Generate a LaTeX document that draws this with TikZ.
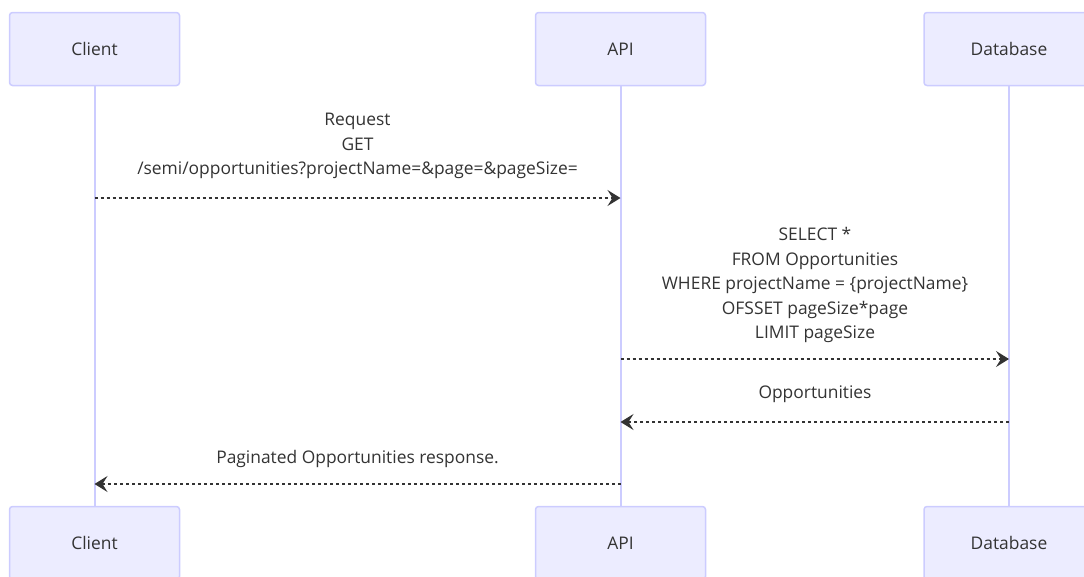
\documentclass[tikz,border=0pt]{standalone}
\usepackage{fontspec}
\setmainfont{Open Sans}
\usetikzlibrary{arrows.meta}
\definecolor{actorfill}{HTML}{ECECFF}
\definecolor{actorline}{HTML}{CCCCFF}
\definecolor{msgtext}{HTML}{333333}
\tikzset{
    actor-box/.style = {draw=actorline, fill=actorfill, line width=1.5pt, rectangle, rounded corners=3pt, minimum width=170pt, minimum height=73pt, text=msgtext, font=\fontsize{17.4}{20}\selectfont},
    life-line/.style = {draw=actorline, line width=2pt},
    msg-arrow/.style = {draw=msgtext, line width=1.5pt, dash pattern=on 3pt off 3pt, -{Stealth[length=13pt, width=16pt, inset=5pt]}},
    msg-label/.style = {text=msgtext, align=center, inner sep=0pt, font=\fontsize{17.4}{24.5}\selectfont},
}

\begin{document}
\begin{tikzpicture}[x=1pt, y=-1pt]
\useasboundingbox (0,0) rectangle (1084,576);
\node [actor-box] (client-top) at (94.5,49) {Client};
\node [actor-box] (api-top) at (620.5,49) {API};
\node [actor-box] (db-top) at (1009,49) {Database};
\node [actor-box] (client-bot) at (94.5,543) {Client};
\node [actor-box] (api-bot) at (620.5,543) {API};
\node [actor-box] (db-bot) at (1009,543) {Database};
\draw [life-line] (client-top) -- (client-bot);
\draw [life-line] (api-top) -- (api-bot);
\draw [life-line] (db-top) -- (db-bot);
% messages
\node [msg-label] (req) at (357.5,146) {Request\\GET\\/semi/opportunities?projectName=\&page=\&pageSize=};
\draw [msg-arrow] (client-top |- 0,198) -- (api-top |- 0,198);
\node [msg-label] (query) at (815,285) {SELECT *\\FROM Opportunities\\WHERE projectName = \{projectName\}\\OFSSET pageSize*page\\LIMIT pageSize};
\draw [msg-arrow] (api-top |- 0,359) -- (db-top |- 0,359);
\node [msg-label] (opps) at (815,394) {Opportunities};
\draw [msg-arrow] (db-top |- 0,422) -- (api-top |- 0,422);
\node [msg-label] (resp) at (357.5,459) {Paginated Opportunities response.};
\draw [msg-arrow] (api-top |- 0,484) -- (client-top |- 0,484);
\end{tikzpicture}
\end{document}
